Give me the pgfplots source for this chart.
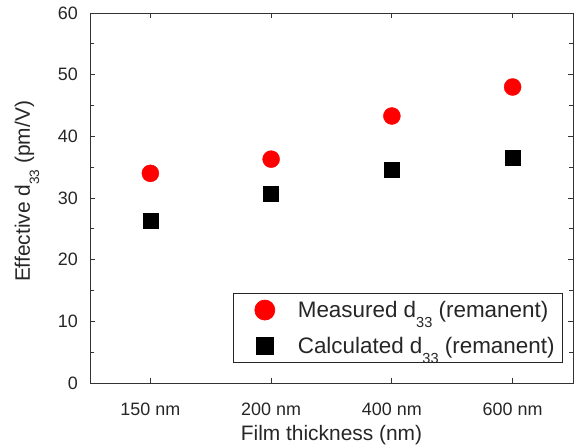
\documentclass[border=0pt]{standalone}
\usepackage{pgfplots}
\pgfplotsset{compat=1.18}
\usepackage{fontspec}
\setmainfont{Liberation Sans}
\usetikzlibrary{calc}
\newcommand{\sub}[1]{\raisebox{-0.44em}{\scalebox{0.65}{#1}}}

\begin{document}
\begin{tikzpicture}
\begin{axis}[
    name=ax,
    scale only axis,
    width=483bp, height=370bp,
    xmin=-0.5, xmax=3.5,
    ymin=0, ymax=60,
    xtick={0,1,2,3},
    xticklabels={150 nm, 200 nm, 400 nm, 600 nm},
    ytick={0,10,...,60},
    minor ytick={5,15,...,55},
    tick align=inside,
    major tick length=5bp,
    minor tick length=4bp,
    axis line style={black!80, line width=0.8pt},
    every tick/.style={black!80, line width=0.8pt},
    tick label style={font=\fontsize{18}{21}\selectfont, black!85, inner sep=0pt},
    xticklabel style={yshift=-20bp},
    yticklabel style={xshift=-12bp},
    /pgf/number format/assume math mode=true,
    xlabel={Film thickness (nm)},
    ylabel={Effective d\sub{33} (pm/V)},
    label style={font=\fontsize{21}{24}\selectfont, black!85, inner sep=0pt},
    xlabel style={at={(axis description cs:0.5,-0.1135)}, anchor=north},
    ylabel style={at={(axis description cs:-0.1046,0.5176)}, anchor=south},
    legend style={at={(0.979,0.054)}, anchor=south east, draw=black!85, line width=0.7pt,
        font=\fontsize{22.5}{26}\selectfont, text=black!85, cells={anchor=west},
        nodes={inner sep=2bp},
        inner xsep=6bp, inner ysep=6bp, row sep=14bp},
    legend cell align=left,
    legend image code/.code={
        \path[draw=none, fill=none] (0bp,0bp) -- (56bp,0bp);
        \draw[#1, only marks] plot coordinates {(25bp,0bp)};},
]
\addplot[only marks, mark=*, mark size=8.5bp, color=red,
    legend image post style={mark size=10bp}] coordinates {
    (0, 34.0) (1, 36.3) (2, 43.3) (3, 48.0)
};
\addplot[only marks, mark=square*, mark size=7.5bp, color=black,
    legend image post style={mark size=8.5bp}] coordinates {
    (0, 26.3) (1, 30.7) (2, 34.6) (3, 36.6)
};
\legend{Measured d\sub{33} (remanent), Calculated d\sub{33} (remanent)}
\end{axis}
\pgfresetboundingbox
\path ($(ax.south west)+(-90bp,-62bp)$) rectangle ($(ax.north east)+(1bp,13bp)$);
\end{tikzpicture}
\end{document}
